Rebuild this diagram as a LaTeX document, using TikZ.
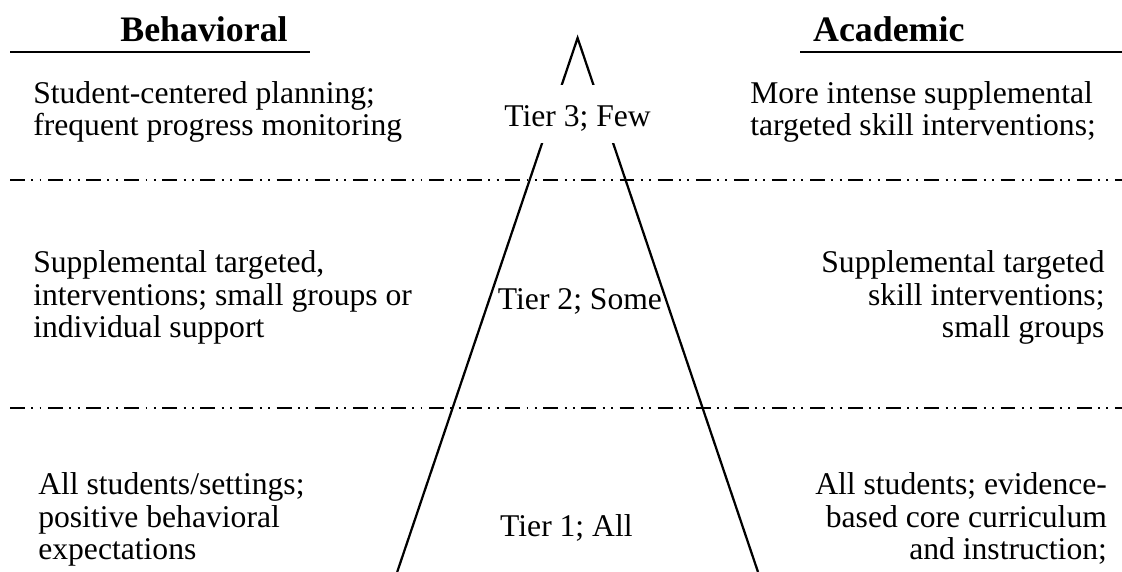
\documentclass[tikz,border=0pt]{standalone}
\usepackage{fontspec}
\setmainfont{Liberation Serif}
\begin{document}
\begin{tikzpicture}[
  borde/.style={line width=1.6pt, draw=black},
  corte/.style={line width=1.2pt, draw=black,
    dash pattern=on 10.6pt off 4.5pt on 1.4pt off 4.5pt on 1.4pt off 4.7pt},
  texto/.style={font=\fontsize{22.5}{23.4}\selectfont, inner sep=0pt},
  titulo/.style={font=\fontsize{25.5}{27}\selectfont\bfseries, inner sep=0pt}]
  \useasboundingbox (0,0) rectangle (28.05,14.3);
  % Lineas divisorias
  \draw[corte] (0.25,9.8) -- (28.05,9.8);
  \draw[corte] (0.25,4.1) -- (28.05,4.1);
  % Triangulo
  \draw[borde, line join=miter] (9.93,0) -- (14.44,13.35) -- (18.95,0);
  % Encabezados
  \node[titulo, anchor=base] (conducta) at (5.1,13.25) {Behavioral};
  \draw[borde] (0.25,13.0) -- (7.75,13.0);
  \node[titulo, anchor=base] (academico) at (22.22,13.25) {Academic};
  \draw[borde] (20,13.0) -- (28.05,13.0);
  % Niveles
  \node[texto, fill=white, minimum height=1.45cm, inner xsep=2pt,
    text height=0.75cm, text depth=0.11cm] (tres) at (14.44,11.45) {Tier 3; Few};
  \node[texto, anchor=base] (dos) at (14.5,6.55) {Tier 2; Some};
  \node[texto, anchor=base] (uno) at (14.16,0.875) {Tier 1; All};
  % Columna izquierda (base = ultima linea)
  \node[texto, anchor=base west, align=left] (izqtres) at (0.825,10.9)
    {Student-centered planning;\\frequent progress monitoring};
  \node[texto, anchor=base west, align=left] (izqdos) at (0.825,5.85)
    {Supplemental targeted,\\interventions; small groups or\\individual support};
  \node[texto, anchor=base west, align=left] (izquno) at (0.95,0.3)
    {All students/settings;\\positive behavioral\\expectations};
  % Columna derecha
  \node[texto, anchor=base west, align=left] (dertres) at (18.75,10.9)
    {More intense supplemental\\targeted skill interventions;};
  \node[texto, anchor=base east, align=right] (derdos) at (27.62,5.85)
    {Supplemental targeted\\skill interventions;\\small groups};
  \node[texto, anchor=base east, align=right] (deruno) at (27.68,0.3)
    {All students; evidence-\\based core curriculum\\and instruction;};
\end{tikzpicture}
\end{document}
